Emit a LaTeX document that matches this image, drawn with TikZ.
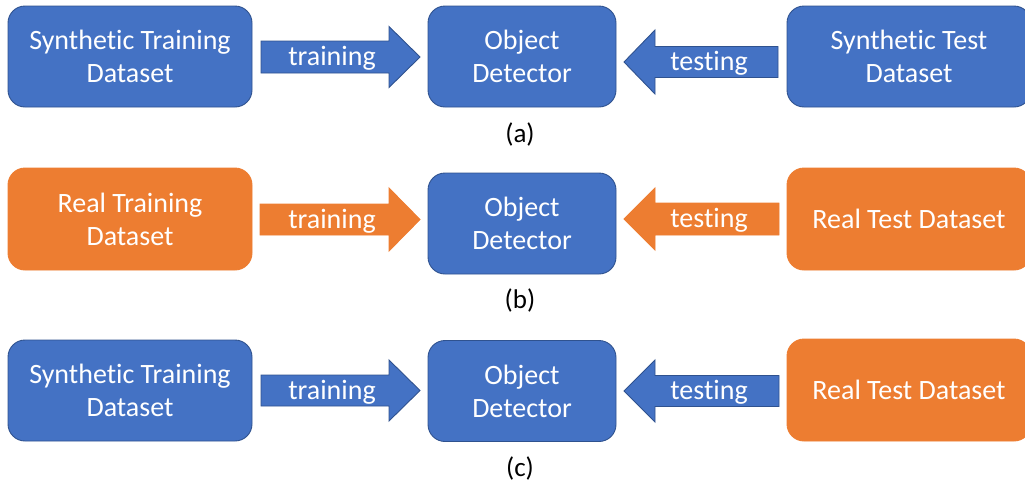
\documentclass[tikz,border=0pt]{standalone}
\usepackage{fontspec}
\setmainfont{Carlito}[Ligatures={NoCommon}]
\definecolor{oblue}{HTML}{4472C4}
\definecolor{oblueedge}{HTML}{2F528F}
\definecolor{oorange}{HTML}{ED7D31}
\newcommand\rarrow[7]{% style, x start, x tip, y, shaft half, head half, head length
  \draw[#1] (#2,#4-#5) -- (#3-#7,#4-#5) -- (#3-#7,#4-#6) -- (#3,#4)
    -- (#3-#7,#4+#6) -- (#3-#7,#4+#5) -- (#2,#4+#5) -- cycle;}
\newcommand\larrow[7]{% style, x start(right), x tip(left), y, shaft half, head half, head length
  \draw[#1] (#2,#4-#5) -- (#3+#7,#4-#5) -- (#3+#7,#4-#6) -- (#3,#4)
    -- (#3+#7,#4+#6) -- (#3+#7,#4+#5) -- (#2,#4+#5) -- cycle;}
\tikzset{
  x=1pt, y=-1pt,
  box/.style={rounded corners=17pt, minimum height=101pt, align=center,
    text=white, font=\fontsize{28}{33}\selectfont, inner sep=0pt},
  bluebox/.style={box, fill=oblue, draw=oblueedge, line width=0.9pt},
  orangebox/.style={box, fill=oorange, draw=oorange, line width=0.9pt},
  bluearr/.style={fill=oblue, draw=oblueedge, line width=0.9pt},
  orangearr/.style={fill=oorange, draw=oorange, line width=0.9pt},
  arrtext/.style={text=white, font=\fontsize{28}{33}\selectfont, inner sep=0pt, anchor=base},
  caption/.style={text=black, font=\fontsize{27}{30}\selectfont, inner sep=0pt}
}
\begin{document}
\begin{tikzpicture}
\useasboundingbox (0,0) rectangle (1025,485);
\clip (0,0) rectangle (1025,485);
% row (a)
\node[bluebox, minimum width=244pt] (sa) at (130,56.5) {Synthetic Training\\Dataset};
\node[bluebox, minimum width=188pt] (oda) at (522,56.5) {Object\\Detector};
\node[bluebox, minimum width=244pt] (sta) at (909,56.5) {Synthetic Test\\Dataset};
\rarrow{bluearr}{261}{420}{57}{16}{30.5}{31}
\node[arrtext] (tra) at (332,65.5) {training};
\larrow{bluearr}{778}{624}{62}{15.5}{32}{31}
\node[arrtext] (tea) at (709,70.5) {testing};
\node[caption] (capa) at (520,134) {(a)};
% row (b)
\node[orangebox, minimum width=244pt, minimum height=102pt] (rb) at (130,219) {Real Training\\Dataset};
\node[bluebox, minimum width=188pt] (odb) at (522,223.5) {Object\\Detector};
\node[orangebox, minimum width=244pt, minimum height=102pt] (rtb) at (909,219) {Real Test Dataset};
\rarrow{orangearr}{260}{420}{219.5}{15.5}{31.5}{31}
\node[arrtext] (trb) at (332,228) {training};
\larrow{orangearr}{779}{624}{219}{16}{31}{31}
\node[arrtext] (teb) at (709,227.5) {testing};
\node[caption] (capb) at (520,300) {(b)};
% row (c)
\node[bluebox, minimum width=244pt] (sc) at (130,390.5) {Synthetic Training\\Dataset};
\node[bluebox, minimum width=188pt] (odc) at (522,391) {Object\\Detector};
\node[orangebox, minimum width=244pt, minimum height=102pt] (rtc) at (909,390) {Real Test Dataset};
\rarrow{bluearr}{261}{420}{390.5}{15.5}{30.5}{31}
\node[arrtext] (trc) at (332,399) {training};
\larrow{bluearr}{779}{624}{391}{15.5}{31}{31}
\node[arrtext] (tec) at (709,399.5) {testing};
\node[caption] (capc) at (520,468) {(c)};
\end{tikzpicture}
\end{document}
